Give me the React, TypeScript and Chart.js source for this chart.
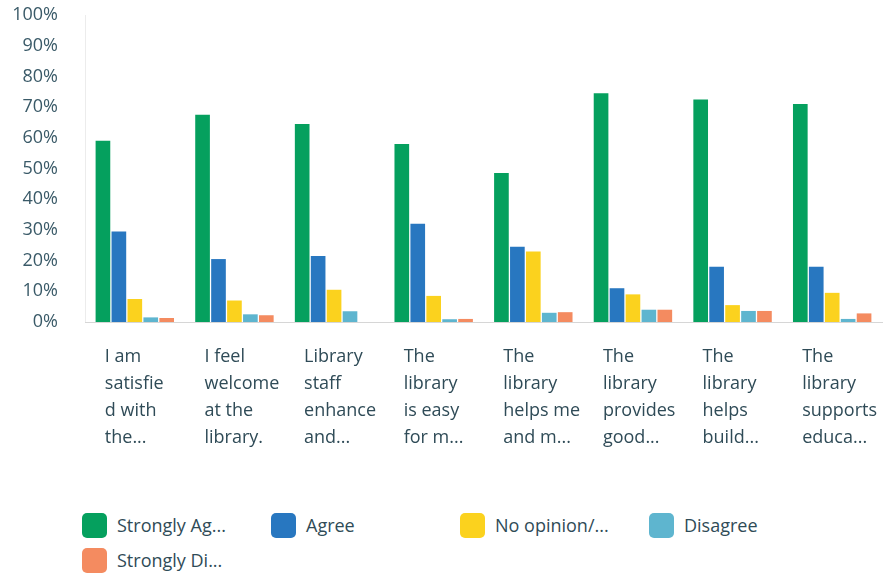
import React, { useEffect, useRef } from "react";
import { Chart, registerables } from "chart.js";

Chart.register(...registerables);

const categories: string[][] = [
  ["I am", "satisfie", "d with", "the..."],
  ["I feel", "welcome", "at the", "library."],
  ["Library", "staff", "enhance", "and..."],
  ["The", "library", "is easy", "for m..."],
  ["The", "library", "helps me", "and m..."],
  ["The", "library", "provides", "good..."],
  ["The", "library", "helps", "build..."],
  ["The", "library", "supports", "educa..."],
];

const seriesNames = ["Strongly Ag...", "Agree", "No opinion/...", "Disagree", "Strongly Di..."];
const stronglyAgree = [59, 67.5, 64.5, 58, 48.5, 74.5, 72.5, 71];
const agree = [29.5, 20.5, 21.5, 32, 24.5, 11, 18, 18];
const noOpinion = [7.5, 7, 10.5, 8.5, 23, 9, 5.5, 9.5];
const disagree = [1.5, 2.5, 3.5, 0.9, 3, 4, 3.6, 1];
const stronglyDisagree = [1.3, 2.2, 0, 1, 3.2, 4, 3.6, 2.8];
const yTicks = [0, 10, 20, 30, 40, 50, 60, 70, 80, 90, 100];

const colors = ["#05a05e", "#2877c0", "#fbd21e", "#5eb5cf", "#f48b60"];
const textColor = "#2f4b57";
const axisColor = "#3a5a68";
const FONT = "'Open Sans', sans-serif";

export default function App() {
  const canvasRef = useRef<HTMLCanvasElement | null>(null);

  useEffect(() => {
    if (!canvasRef.current) return;
    const values = [stronglyAgree, agree, noOpinion, disagree, stronglyDisagree];
    const chart = new Chart(canvasRef.current, {
      type: "bar",
      data: {
        labels: categories,
        datasets: values.map((v, i) => ({
          label: seriesNames[i],
          data: v,
          backgroundColor: colors[i],
          borderWidth: 0,
          categoryPercentage: 0.8,
          barPercentage: 0.92,
        })),
      },
      options: {
        responsive: false,
        animation: false,
        layout: { padding: { top: 15, right: 3, left: 0, bottom: 0 } },
        plugins: { legend: { display: false }, tooltip: { enabled: false } },
        scales: {
          y: {
            min: 0,
            max: 100,
            afterBuildTicks: (scale: any) => {
              scale.ticks = yTicks.map((v) => ({ value: v }));
            },
            afterFit: (scale: any) => {
              scale.width = 85;
              scale.paddingTop = 0;
              scale.paddingBottom = 0;
            },
            ticks: {
              callback: (v: any) => v + "%",
              font: { family: FONT, size: 18 },
              color: axisColor,
              padding: 27,
            },
            grid: { display: false, drawTicks: false },
            border: { display: true, color: "#ececec", dash: [2, 2] },
          },
          x: {
            afterFit: (scale: any) => {
              scale.height = 158;
              scale.paddingLeft = 0;
              scale.paddingRight = 0;
            },
            ticks: {
              align: "start",
              labelOffset: -30,
              autoSkip: false,
              maxRotation: 0,
              minRotation: 0,
              font: { family: FONT, size: 18, lineHeight: 1.5 },
              color: textColor,
              padding: 21,
            },
            grid: { display: false, drawTicks: false },
            border: { display: true, color: "#d6d6d6", dash: [2, 2] },
          },
        },
      },
    });
    return () => chart.destroy();
  }, []);

  return (
    <div style={{ position: "absolute", left: 0, top: 0, width: 885, height: 575, background: "#fff" }}>
      <canvas ref={canvasRef} width={885} height={480} style={{ position: "absolute", left: 0, top: 0 }} />
      <div
        style={{
          position: "absolute",
          left: 82,
          top: 513,
          display: "grid",
          gridTemplateColumns: "189px 189px 189px 189px",
          rowGap: 10,
          fontFamily: FONT,
          fontSize: 18,
          color: textColor,
        }}
      >
        {seriesNames.map((name, i) => (
          <div key={name} style={{ display: "flex", alignItems: "center", height: 25 }}>
            <span
              style={{
                display: "inline-block",
                width: 25,
                height: 25,
                borderRadius: 5,
                background: colors[i],
                marginRight: 10,
              }}
            />
            <span style={{ lineHeight: "25px" }}>{name}</span>
          </div>
        ))}
      </div>
    </div>
  );
}
